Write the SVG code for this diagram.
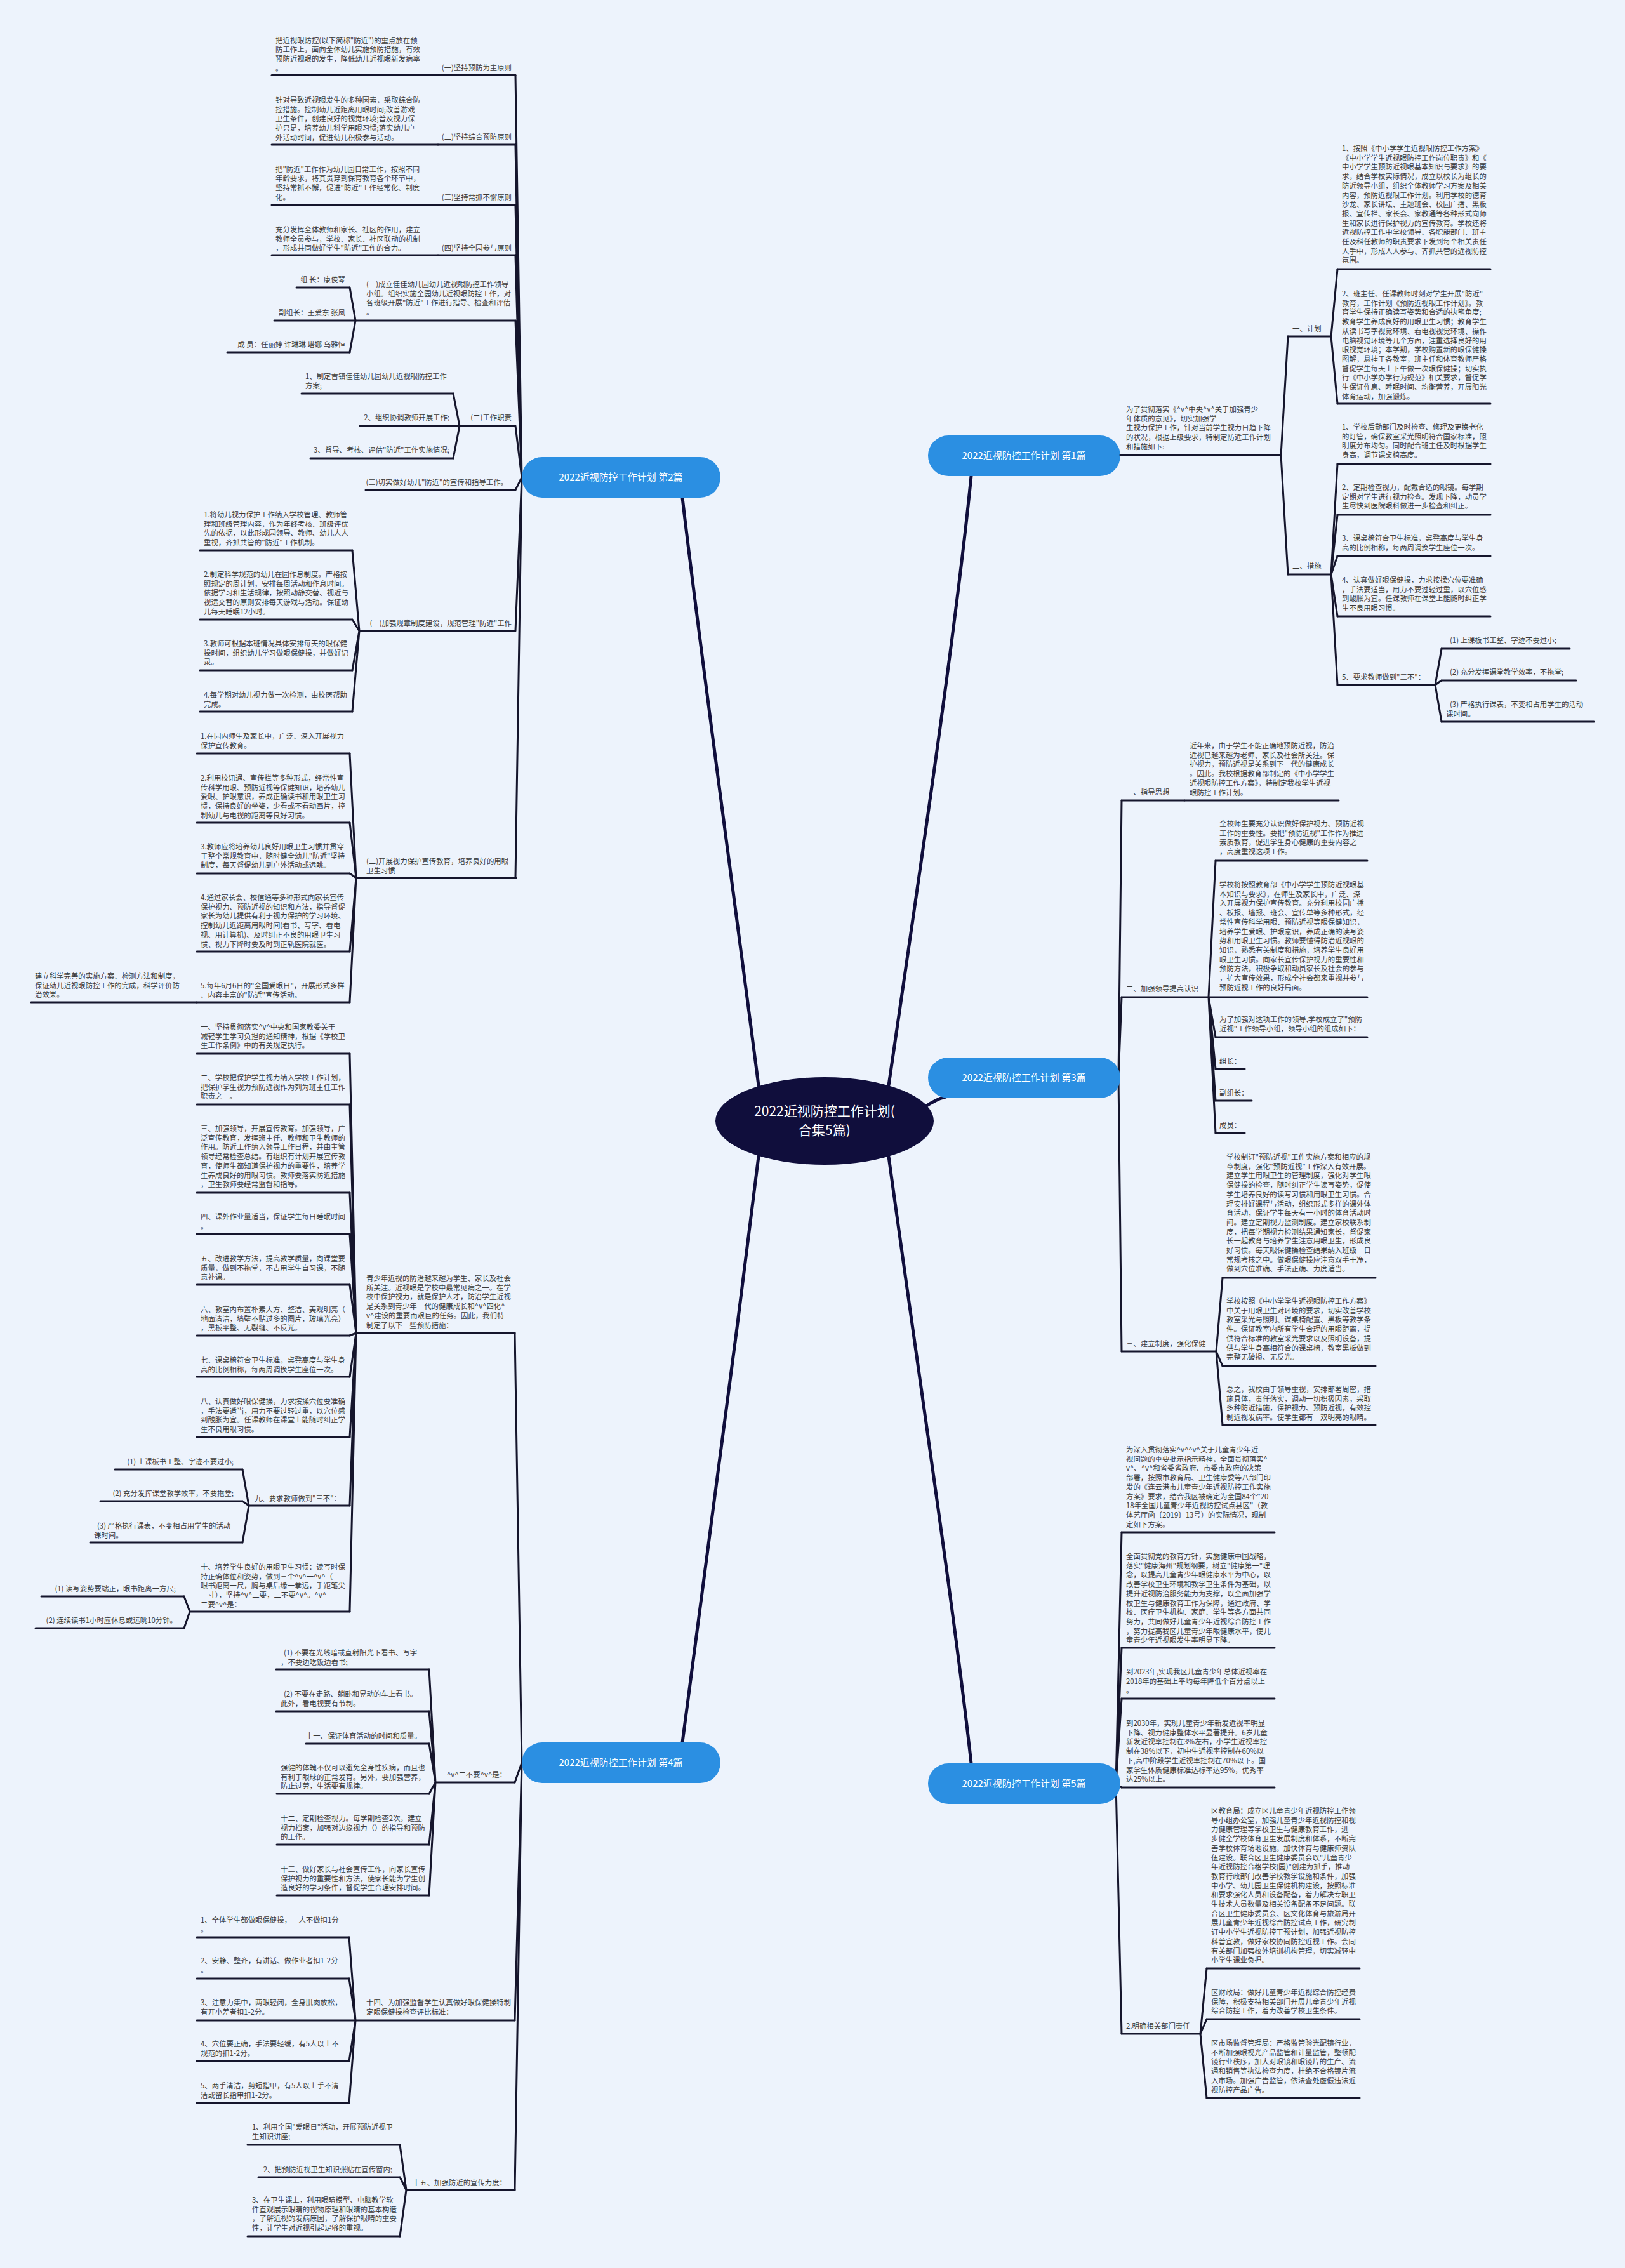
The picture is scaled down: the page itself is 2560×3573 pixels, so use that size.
<svg xmlns="http://www.w3.org/2000/svg" width="2560" height="3573" viewBox="0 0 2560 3573">
<style>
.t{font-family:"Noto Sans CJK SC","Noto Sans",sans-serif;font-size:11.4px;fill:#3a3a3a}
.e{text-anchor:end}
.ul{stroke:#15152c;stroke-width:3;fill:none;stroke-linecap:round}
.cn{stroke:#15152c;stroke-width:3;fill:none;stroke-linecap:round}
.mc{stroke:#100e3c;stroke-width:5;fill:none;stroke-linecap:round}
.pill{fill:#2b8fe2}
.pt{font-family:"Noto Sans CJK SC","Noto Sans",sans-serif;font-size:15px;fill:#ffffff;text-anchor:middle}
.ct{font-family:"Noto Sans CJK SC","Noto Sans",sans-serif;font-size:21px;fill:#ffffff;text-anchor:middle}
</style>
<rect width="2560" height="3573" fill="#edf3fc"/>

<g id="connectors">
<path class="mc" d="M1195,1710 C1155,1400 1100,1000 1075,784"/>
<path class="mc" d="M1195,1822 C1155,2150 1100,2550 1075,2745"/>
<path class="mc" d="M1400,1710 C1445,1400 1505,1000 1530,750"/>
<path class="mc" d="M1455,1745 C1470,1735 1480,1730 1490,1728"/>
<path class="mc" d="M1400,1822 C1445,2150 1505,2550 1530,2778"/>
<path class="cn" d="M822,752 L812,118.5 M822,752 L812,228 M822,752 L812,323 M822,752 L812,402 M822,752 L812,505 M822,752 L812,671 M822,752 L812,772 M822,752 L812,994 M822,752 L812,1383"/>
<path class="cn" d="M560,505 L551,453 M560,505 L551,555"/>
<path class="cn" d="M724,671 L714,620 M724,671 L714,722"/>
<path class="cn" d="M566,994 L555,867 M566,994 L555,976 M566,994 L555,1056 M566,994 L555,1121"/>
<path class="cn" d="M561,1383 L551,1187 M561,1383 L551,1296 M561,1383 L551,1376 M561,1383 L551,1499 M561,1383 L551,1579"/>
<path class="cn" d="M822,2777 L811,2100 M822,2777 L811,2808 M822,2777 L811,3183 M822,2777 L811,3450"/>
<path class="cn" d="M561,2100 L551,1660 M561,2100 L551,1740 M561,2100 L551,1879 M561,2100 L551,1944 M561,2100 L551,2024 M561,2100 L551,2104 M561,2100 L551,2169 M561,2100 L551,2264 M561,2100 L551,2372 M561,2100 L551,2539"/>
<path class="cn" d="M392,2372 L382,2315 M392,2372 L382,2365 M392,2372 L382,2430"/>
<path class="cn" d="M299,2539 L290,2515 M299,2539 L290,2565"/>
<path class="cn" d="M686,2808 L676,2630 M686,2808 L676,2696 M686,2808 L676,2747 M686,2808 L676,2826 M686,2808 L676,2906 M686,2808 L676,2986"/>
<path class="cn" d="M560,3183 L550,3052 M560,3183 L550,3117 M560,3183 L550,3247 M560,3183 L550,3313"/>
<path class="cn" d="M640,3450 L630,3379 M640,3450 L630,3430 M640,3450 L630,3523"/>
<path class="cn" d="M2018,717 L2029,530 M2018,717 L2029,905"/>
<path class="cn" d="M2097,530 L2107,424 M2097,530 L2107,636"/>
<path class="cn" d="M2097,905 L2107,731 M2097,905 L2107,811 M2097,905 L2107,876 M2097,905 L2107,971 M2097,905 L2107,1079"/>
<path class="cn" d="M2261,1079 L2271,1022 M2261,1079 L2271,1072 M2261,1079 L2271,1137"/>
<path class="cn" d="M1762,1698 L1767,1261 M1762,1698 L1767,1571 M1762,1698 L1767,2129"/>
<path class="cn" d="M1904,1571 L1915,1356 M1904,1571 L1915,1634 M1904,1571 L1915,1684 M1904,1571 L1915,1734 M1904,1571 L1915,1785"/>
<path class="cn" d="M1916,2129 L1926,2013 M1916,2129 L1926,2152 M1916,2129 L1926,2245"/>
<path class="cn" d="M1758,2810 L1767,2414 M1758,2810 L1767,2596 M1758,2810 L1767,2676 M1758,2810 L1767,2816 M1758,2810 L1767,3204"/>
<path class="cn" d="M1891,3204 L1901,3101 M1891,3204 L1901,3181 M1891,3204 L1901,3305"/>
</g>

<g id="center">
<ellipse cx="1299" cy="1766" rx="172" ry="69" fill="#100e3c"/>
<text class="ct" x="1299" y="1758">2022近视防控工作计划(</text>
<text class="ct" x="1299" y="1788">合集5篇)</text>
</g>

<g id="branch1"><rect class="pill" x="1462" y="686" width="303" height="64" rx="32"/><text class="pt" x="1613" y="723">2022近视防控工作计划 第1篇</text></g>
<g id="branch2"><rect class="pill" x="822" y="720" width="313" height="64" rx="32"/><text class="pt" x="978" y="757">2022近视防控工作计划 第2篇</text></g>
<g id="branch3"><rect class="pill" x="1462" y="1666" width="303" height="64" rx="32"/><text class="pt" x="1613" y="1703">2022近视防控工作计划 第3篇</text></g>
<g id="branch4"><rect class="pill" x="822" y="2745" width="313" height="64" rx="32"/><text class="pt" x="978" y="2782">2022近视防控工作计划 第4篇</text></g>
<g id="branch5"><rect class="pill" x="1462" y="2778" width="303" height="64" rx="32"/><text class="pt" x="1613" y="2815">2022近视防控工作计划 第5篇</text></g>

<g id="b2-a"><text class="t e" x="806" y="111">(一)坚持预防为主原则</text><path class="ul" d="M690,118.5 H812"/></g>
<g id="b2-a1"><text class="t" x="434" y="67.5"><tspan x="434">把近视眼防控(以下简称"防近")的重点放在预</tspan><tspan x="434" dy="14.7">防工作上，面向全体幼儿实施预防措施，有效</tspan><tspan x="434" dy="14.7">预防近视眼的发生，降低幼儿近视眼新发病率</tspan><tspan x="434" dy="14.7">。</tspan></text><path class="ul" d="M428,118.5 H690"/></g>
<g id="b2-b"><text class="t e" x="806" y="220">(二)坚持综合预防原则</text><path class="ul" d="M690,228 H812"/></g>
<g id="b2-b1"><text class="t" x="434" y="162"><tspan x="434">针对导致近视眼发生的多种因素，采取综合防</tspan><tspan x="434" dy="14.7">控措施。控制幼儿近距离用眼时间;改善游戏</tspan><tspan x="434" dy="14.7">卫生条件，创建良好的视觉环境;普及视力保</tspan><tspan x="434" dy="14.7">护只是，培养幼儿科学用眼习惯;落实幼儿户</tspan><tspan x="434" dy="14.7">外活动时间，促进幼儿积极参与活动。</tspan></text><path class="ul" d="M428,228 H690"/></g>
<g id="b2-c"><text class="t e" x="806" y="315">(三)坚持常抓不懈原则</text><path class="ul" d="M690,323 H812"/></g>
<g id="b2-c1"><text class="t" x="434" y="270.6"><tspan x="434">把"防近"工作作为幼儿园日常工作，按照不同</tspan><tspan x="434" dy="14.7">年龄要求，将其贯穿到保育教育各个环节中，</tspan><tspan x="434" dy="14.7">坚持常抓不懈，促进"防近"工作经常化、制度</tspan><tspan x="434" dy="14.7">化。</tspan></text><path class="ul" d="M428,323 H690"/></g>
<g id="b2-d"><text class="t e" x="806" y="395">(四)坚持全园参与原则</text><path class="ul" d="M690,402 H812"/></g>
<g id="b2-d1"><text class="t" x="434" y="366"><tspan x="434">充分发挥全体教师和家长、社区的作用，建立</tspan><tspan x="434" dy="14.7">教师全员参与，学校、家长、社区联动的机制</tspan><tspan x="434" dy="14.7">，形成共同做好学生"防近"工作的合力。</tspan></text><path class="ul" d="M428,402 H690"/></g>
<g id="b2-e"><text class="t" x="577" y="452"><tspan x="577">(一)成立佳佳幼儿园幼儿近视眼防控工作领导</tspan><tspan x="577" dy="14.7">小组。组织实施全园幼儿近视眼防控工作，对</tspan><tspan x="577" dy="14.7">各班级开展"防近"工作进行指导、检查和评估</tspan><tspan x="577" dy="14.7">。</tspan></text><path class="ul" d="M560,505 H812"/></g>
<g id="b2-e1"><text class="t e" x="544" y="445">组 长：康俊琴</text><path class="ul" d="M467,453 H551"/></g>
<g id="b2-e2"><text class="t e" x="544" y="497">副组长：王爱东 张凤</text><path class="ul" d="M432,505 H560"/></g>
<g id="b2-e3"><text class="t e" x="544" y="547">成 员：任丽婷 许琳琳 塔娜 乌雅恒</text><path class="ul" d="M358,555 H551"/></g>
<g id="b2-f"><text class="t e" x="806" y="662">(二)工作职责</text><path class="ul" d="M724,671 H811"/></g>
<g id="b2-f1"><text class="t" x="481" y="597"><tspan x="481">1、制定吉镇佳佳幼儿园幼儿近视眼防控工作</tspan><tspan x="481" dy="14.7">方案;</tspan></text><path class="ul" d="M475,620 H714"/></g>
<g id="b2-f2"><text class="t e" x="708" y="662">2、组织协调教师开展工作;</text><path class="ul" d="M567,671 H724"/></g>
<g id="b2-f3"><text class="t e" x="708" y="713">3、督导、考核、评估"防近"工作实施情况;</text><path class="ul" d="M489,722 H714"/></g>
<g id="b2-g"><text class="t e" x="800" y="764">(三)切实做好幼儿"防近"的宣传和指导工作。</text><path class="ul" d="M576,772 H811"/></g>
<g id="b2-h"><text class="t e" x="806" y="986">(一)加强规章制度建设，规范管理"防近"工作</text><path class="ul" d="M566,994 H811"/></g>
<g id="b2-h1"><text class="t" x="321" y="815"><tspan x="321">1.将幼儿视力保护工作纳入学校管理、教师管</tspan><tspan x="321" dy="14.7">理和班级管理内容，作为年终考核、班级评优</tspan><tspan x="321" dy="14.7">先的依据，以此形成园领导、教师、幼儿人人</tspan><tspan x="321" dy="14.7">重视，齐抓共管的"防近"工作机制。</tspan></text><path class="ul" d="M315,867 H555"/></g>
<g id="b2-h2"><text class="t" x="321" y="909"><tspan x="321">2.制定科学规范的幼儿在园作息制度。严格按</tspan><tspan x="321" dy="14.7">照规定的周计划，安排每周活动和作息时间。</tspan><tspan x="321" dy="14.7">依据学习和生活规律，按照动静交替、视近与</tspan><tspan x="321" dy="14.7">视远交替的原则安排每天游戏与活动。保证幼</tspan><tspan x="321" dy="14.7">儿每天睡眠12小时。</tspan></text><path class="ul" d="M315,976 H555"/></g>
<g id="b2-h3"><text class="t" x="321" y="1018"><tspan x="321">3.教师可根据本班情况具体安排每天的眼保健</tspan><tspan x="321" dy="14.7">操时间，组织幼儿学习做眼保健操，并做好记</tspan><tspan x="321" dy="14.7">录。</tspan></text><path class="ul" d="M315,1056 H555"/></g>
<g id="b2-h4"><text class="t" x="321" y="1099"><tspan x="321">4.每学期对幼儿视力做一次检测，由校医帮助</tspan><tspan x="321" dy="14.7">完成。</tspan></text><path class="ul" d="M315,1121 H555"/></g>
<g id="b2-i"><text class="t" x="577" y="1361"><tspan x="577">(二)开展视力保护宣传教育，培养良好的用眼</tspan><tspan x="577" dy="14.7">卫生习惯</tspan></text><path class="ul" d="M561,1383 H813"/></g>
<g id="b2-i1"><text class="t" x="316" y="1164"><tspan x="316">1.在园内师生及家长中，广泛、深入开展视力</tspan><tspan x="316" dy="14.7">保护宣传教育。</tspan></text><path class="ul" d="M310,1187 H551"/></g>
<g id="b2-i2"><text class="t" x="316" y="1230"><tspan x="316">2.利用校讯通、宣传栏等多种形式，经常性宣</tspan><tspan x="316" dy="14.7">传科学用眼、预防近视等保健知识，培养幼儿</tspan><tspan x="316" dy="14.7">爱眼、护眼意识，养成正确读书和用眼卫生习</tspan><tspan x="316" dy="14.7">惯，保持良好的坐姿，少看或不看动画片，控</tspan><tspan x="316" dy="14.7">制幼儿与电视的距离等良好习惯。</tspan></text><path class="ul" d="M310,1296 H551"/></g>
<g id="b2-i3"><text class="t" x="316" y="1338"><tspan x="316">3.教师应将培养幼儿良好用眼卫生习惯并贯穿</tspan><tspan x="316" dy="14.7">于整个常规教育中，随时健全幼儿"防近"坚持</tspan><tspan x="316" dy="14.7">制度，每天督促幼儿到户外活动或远眺。</tspan></text><path class="ul" d="M310,1376 H551"/></g>
<g id="b2-i4"><text class="t" x="316" y="1418"><tspan x="316">4.通过家长会、校信通等多种形式向家长宣传</tspan><tspan x="316" dy="14.7">保护视力、预防近视的知识和方法，指导督促</tspan><tspan x="316" dy="14.7">家长为幼儿提供有利于视力保护的学习环境、</tspan><tspan x="316" dy="14.7">控制幼儿近距离用眼时间(看书、写字、看电</tspan><tspan x="316" dy="14.7">视、用计算机)、及时纠正不良的用眼卫生习</tspan><tspan x="316" dy="14.7">惯、视力下降时要及时到正轨医院就医。</tspan></text><path class="ul" d="M310,1499 H551"/></g>
<g id="b2-i5"><text class="t" x="316" y="1557"><tspan x="316">5.每年6月6日的"全国爱眼日"，开展形式多样</tspan><tspan x="316" dy="14.7">、内容丰富的"防近"宣传活动。</tspan></text><path class="ul" d="M310,1579 H551"/></g>
<g id="b2-i5a"><text class="t" x="55" y="1542"><tspan x="55">建立科学完善的实施方案、检测方法和制度，</tspan><tspan x="55" dy="14.7">保证幼儿近视眼防控工作的完成，科学评价防</tspan><tspan x="55" dy="14.7">治效果。</tspan></text><path class="ul" d="M49,1579 H310"/></g>

<g id="b4-a"><text class="t" x="577" y="2018"><tspan x="577">青少年近视的防治越来越为学生、家长及社会</tspan><tspan x="577" dy="14.7">所关注。近视眼是学校中最常见病之一。在学</tspan><tspan x="577" dy="14.7">校中保护视力，就是保护人才，防治学生近视</tspan><tspan x="577" dy="14.7">是关系到青少年一代的健康成长和^v^四化^</tspan><tspan x="577" dy="14.7">v^建设的重要而艰巨的任务。因此，我们特</tspan><tspan x="577" dy="14.7">制定了以下一些预防措施：</tspan></text><path class="ul" d="M561,2100 H811"/></g>
<g id="b4-a1"><text class="t" x="316" y="1622"><tspan x="316">一、坚持贯彻落实^v^中央和国家教委关于</tspan><tspan x="316" dy="14.7">减轻学生学习负担的通知精神，根据《学校卫</tspan><tspan x="316" dy="14.7">生工作条例》中的有关规定执行。</tspan></text><path class="ul" d="M310,1660 H551"/></g>
<g id="b4-a2"><text class="t" x="316" y="1702"><tspan x="316">二、学校把保护学生视力纳入学校工作计划，</tspan><tspan x="316" dy="14.7">把保护学生视力预防近视作为列为班主任工作</tspan><tspan x="316" dy="14.7">职责之一。</tspan></text><path class="ul" d="M310,1740 H551"/></g>
<g id="b4-a3"><text class="t" x="316" y="1782"><tspan x="316">三、加强领导，开展宣传教育。加强领导，广</tspan><tspan x="316" dy="14.7">泛宣传教育，发挥班主任、教师和卫生教师的</tspan><tspan x="316" dy="14.7">作用。防近工作纳入领导工作日程，并由主管</tspan><tspan x="316" dy="14.7">领导经常检查总结。有组织有计划开展宣传教</tspan><tspan x="316" dy="14.7">育，使师生都知道保护视力的重要性，培养学</tspan><tspan x="316" dy="14.7">生养成良好的用眼习惯。教师要落实防近措施</tspan><tspan x="316" dy="14.7">，卫生教师要经常监督和指导。</tspan></text><path class="ul" d="M310,1879 H551"/></g>
<g id="b4-a4"><text class="t" x="316" y="1921"><tspan x="316">四、课外作业量适当，保证学生每日睡眠时间</tspan><tspan x="316" dy="14.7">。</tspan></text><path class="ul" d="M310,1944 H551"/></g>
<g id="b4-a5"><text class="t" x="316" y="1987"><tspan x="316">五、改进教学方法，提高教学质量，向课堂要</tspan><tspan x="316" dy="14.7">质量，做到不拖堂，不占用学生自习课，不随</tspan><tspan x="316" dy="14.7">意补课。</tspan></text><path class="ul" d="M310,2024 H551"/></g>
<g id="b4-a6"><text class="t" x="316" y="2067"><tspan x="316">六、教室内布置朴素大方、整洁、美观明亮（</tspan><tspan x="316" dy="14.7">地面清洁，墙壁不贴过多的图片，玻璃光亮）</tspan><tspan x="316" dy="14.7">，黑板平整、无裂缝、不反光。</tspan></text><path class="ul" d="M310,2104 H551"/></g>
<g id="b4-a7"><text class="t" x="316" y="2147"><tspan x="316">七、课桌椅符合卫生标准，桌凳高度与学生身</tspan><tspan x="316" dy="14.7">高的比例相称，每两周调换学生座位一次。</tspan></text><path class="ul" d="M310,2169 H551"/></g>
<g id="b4-a8"><text class="t" x="316" y="2212"><tspan x="316">八、认真做好眼保健操，力求按揉穴位要准确</tspan><tspan x="316" dy="14.7">，手法要适当，用力不要过轻过重，以穴位感</tspan><tspan x="316" dy="14.7">到酸胀为宜。任课教师在课堂上能随时纠正学</tspan><tspan x="316" dy="14.7">生不良用眼习惯。</tspan></text><path class="ul" d="M310,2264 H551"/></g>
<g id="b4-a9"><text class="t e" x="537" y="2365">九、要求教师做到"三不"：</text><path class="ul" d="M392,2372 H551"/></g>
<g id="b4-a9-1"><text class="t e" x="368" y="2307">(1) 上课板书工整、字迹不要过小;</text><path class="ul" d="M181,2315 H382"/></g>
<g id="b4-a9-2"><text class="t e" x="368" y="2357">(2) 充分发挥课堂教学效率，不要拖堂;</text><path class="ul" d="M158,2365 H382"/></g>
<g id="b4-a9-3"><text class="t" x="150" y="2408"><tspan x="153">(3) 严格执行课表，不变相占用学生的活动</tspan><tspan x="148" dy="14.7">课时间。</tspan></text><path class="ul" d="M142,2430 H382"/></g>
<g id="b4-a10"><text class="t" x="316" y="2473"><tspan x="316">十、培养学生良好的用眼卫生习惯：读写时保</tspan><tspan x="316" dy="14.7">持正确体位和姿势，做到三个^v^一^v^（</tspan><tspan x="316" dy="14.7">眼书距离一尺，胸与桌后缘一拳远，手距笔尖</tspan><tspan x="316" dy="14.7">一寸），坚持^v^二要，二不要^v^。^v^</tspan><tspan x="316" dy="14.7">二要^v^是：</tspan></text><path class="ul" d="M299,2539 H551"/></g>
<g id="b4-a10-1"><text class="t e" x="277" y="2507">(1) 读写姿势要端正，眼书距离一方尺;</text><path class="ul" d="M65,2515 H290"/></g>
<g id="b4-a10-2"><text class="t e" x="279" y="2557">(2) 连续读书1小时应休息或远眺10分钟。</text><path class="ul" d="M56,2565 H290"/></g>
<g id="b4-b"><text class="t e" x="798" y="2800">^v^二不要^v^是：</text><path class="ul" d="M686,2808 H811"/></g>
<g id="b4-b1"><text class="t" x="447" y="2608"><tspan x="447">(1) 不要在光线暗或直射阳光下看书、写字</tspan><tspan x="442" dy="14.7">，不要边吃饭边看书;</tspan></text><path class="ul" d="M435,2630 H676"/></g>
<g id="b4-b2"><text class="t" x="447" y="2673"><tspan x="447">(2) 不要在走路、躺卧和晃动的车上看书。</tspan><tspan x="442" dy="14.7">此外，看电视要有节制。</tspan></text><path class="ul" d="M435,2696 H676"/></g>
<g id="b4-b3"><text class="t e" x="664" y="2739">十一、保证体育活动的时间和质量。</text><path class="ul" d="M482,2747 H676"/></g>
<g id="b4-b4"><text class="t" x="442" y="2789"><tspan x="442">强健的体魄不仅可以避免全身性疾病，而且也</tspan><tspan x="442" dy="14.7">有利于眼球的正常发育。另外，要加强营养，</tspan><tspan x="442" dy="14.7">防止过劳，生活要有规律。</tspan></text><path class="ul" d="M436,2826 H676"/></g>
<g id="b4-b5"><text class="t" x="442" y="2869"><tspan x="442">十二、定期检查视力。每学期检查2次，建立</tspan><tspan x="442" dy="14.7">视力档案，加强对边缘视力（）的指导和预防</tspan><tspan x="442" dy="14.7">的工作。</tspan></text><path class="ul" d="M436,2906 H676"/></g>
<g id="b4-b6"><text class="t" x="442" y="2949"><tspan x="442">十三、做好家长与社会宣传工作，向家长宣传</tspan><tspan x="442" dy="14.7">保护视力的重要性和方法，使家长能为学生创</tspan><tspan x="442" dy="14.7">造良好的学习条件，督促学生合理安排时间。</tspan></text><path class="ul" d="M436,2986 H676"/></g>
<g id="b4-c"><text class="t" x="577" y="3159"><tspan x="577">十四、为加强监督学生认真做好眼保健操特制</tspan><tspan x="577" dy="14.7">定眼保健操检查评比标准：</tspan></text><path class="ul" d="M560,3183 H811"/></g>
<g id="b4-c1"><text class="t" x="316" y="3029"><tspan x="316">1、全体学生都做眼保健操，一人不做扣1分</tspan><tspan x="316" dy="14.7">。</tspan></text><path class="ul" d="M310,3052 H550"/></g>
<g id="b4-c2"><text class="t" x="316" y="3093"><tspan x="316">2、安静、整齐，有讲话、做作业者扣1-2分</tspan><tspan x="316" dy="14.7">。</tspan></text><path class="ul" d="M310,3117 H550"/></g>
<g id="b4-c3"><text class="t" x="316" y="3159"><tspan x="316">3、注意力集中，两眼轻闭，全身肌肉放松，</tspan><tspan x="316" dy="14.7">有开小差者扣1-2分。</tspan></text><path class="ul" d="M310,3183 H560"/></g>
<g id="b4-c4"><text class="t" x="316" y="3224"><tspan x="316">4、穴位要正确，手法要轻缓，有5人以上不</tspan><tspan x="316" dy="14.7">规范的扣1-2分。</tspan></text><path class="ul" d="M310,3247 H550"/></g>
<g id="b4-c5"><text class="t" x="316" y="3290"><tspan x="316">5、两手清洁，剪短指甲，有5人以上手不清</tspan><tspan x="316" dy="14.7">洁或留长指甲扣1-2分。</tspan></text><path class="ul" d="M310,3313 H550"/></g>
<g id="b4-d"><text class="t e" x="798" y="3443">十五、加强防近的宣传力度：</text><path class="ul" d="M640,3450 H811"/></g>
<g id="b4-d1"><text class="t" x="397" y="3355"><tspan x="397">1、利用全国"爱眼日"活动，开展预防近视卫</tspan><tspan x="397" dy="14.7">生知识讲座;</tspan></text><path class="ul" d="M390,3379 H630"/></g>
<g id="b4-d2"><text class="t e" x="618" y="3422">2、把预防近视卫生知识张贴在宣传窗内;</text><path class="ul" d="M407,3430 H630"/></g>
<g id="b4-d3"><text class="t" x="397" y="3470"><tspan x="397">3、在卫生课上，利用眼睛模型、电脑教学软</tspan><tspan x="397" dy="14.7">件直观展示眼睛的视物原理和眼睛的基本构造</tspan><tspan x="397" dy="14.7">，了解近视的发病原因，了解保护眼睛的重要</tspan><tspan x="397" dy="14.7">性，让学生对近视引起足够的重视。</tspan></text><path class="ul" d="M390,3523 H630"/></g>

<g id="b1-a"><text class="t" x="1774" y="649"><tspan x="1774">为了贯彻落实《^v^中央^v^关于加强青少</tspan><tspan x="1774" dy="14.7">年体质的意见》，切实加强学</tspan><tspan x="1774" dy="14.7">生视力保护工作，针对当前学生视力日趋下降</tspan><tspan x="1774" dy="14.7">的状况，根据上级要求，特制定防近工作计划</tspan><tspan x="1774" dy="14.7">和措施如下:</tspan></text><path class="ul" d="M1765,717 H2018"/></g>
<g id="b1-b"><text class="t" x="2036" y="522">一、计划</text><path class="ul" d="M2029,530 H2097"/></g>
<g id="b1-b1"><text class="t" x="2114" y="238"><tspan x="2114">1、按照《中小学学生近视眼防控工作方案》</tspan><tspan x="2114" dy="14.7">《中小学学生近视眼防控工作岗位职责》和《</tspan><tspan x="2114" dy="14.7">中小学学生预防近视眼基本知识与要求》的要</tspan><tspan x="2114" dy="14.7">求，结合学校实际情况，成立以校长为组长的</tspan><tspan x="2114" dy="14.7">防近领导小组，组织全体教师学习方案及相关</tspan><tspan x="2114" dy="14.7">内容，预防近视眼工作计划。利用学校的德育</tspan><tspan x="2114" dy="14.7">沙龙、家长讲坛、主题班会、校园广播、黑板</tspan><tspan x="2114" dy="14.7">报、宣传栏、家长会、家教通等各种形式向师</tspan><tspan x="2114" dy="14.7">生和家长进行保护视力的宣传教育。学校还将</tspan><tspan x="2114" dy="14.7">近视防控工作中学校领导、各职能部门、班主</tspan><tspan x="2114" dy="14.7">任及科任教师的职责要求下发到每个相关责任</tspan><tspan x="2114" dy="14.7">人手中，形成人人参与、齐抓共管的近视防控</tspan><tspan x="2114" dy="14.7">氛围。</tspan></text><path class="ul" d="M2107,424 H2348"/></g>
<g id="b1-b2"><text class="t" x="2114" y="467"><tspan x="2114">2、班主任、任课教师时刻对学生开展"防近"</tspan><tspan x="2114" dy="14.7">教育，工作计划《预防近视眼工作计划》。教</tspan><tspan x="2114" dy="14.7">育学生保持正确读写姿势和合适的执笔角度;</tspan><tspan x="2114" dy="14.7">教育学生养成良好的用眼卫生习惯；教育学生</tspan><tspan x="2114" dy="14.7">从读书写字视觉环境、看电视视觉环境、操作</tspan><tspan x="2114" dy="14.7">电脑视觉环境等几个方面，注重选择良好的用</tspan><tspan x="2114" dy="14.7">眼视觉环境；本学期，学校购置新的眼保健操</tspan><tspan x="2114" dy="14.7">图解，悬挂于各教室，班主任和体育教师严格</tspan><tspan x="2114" dy="14.7">督促学生每天上下午做一次眼保健操；切实执</tspan><tspan x="2114" dy="14.7">行《中小学办学行为规范》相关要求，督促学</tspan><tspan x="2114" dy="14.7">生保证作息、睡眠时间、均衡营养，开展阳光</tspan><tspan x="2114" dy="14.7">体育运动，加强锻炼。</tspan></text><path class="ul" d="M2107,636 H2348"/></g>
<g id="b1-c"><text class="t" x="2036" y="896">二、措施</text><path class="ul" d="M2029,905 H2097"/></g>
<g id="b1-c1"><text class="t" x="2114" y="677"><tspan x="2114">1、学校后勤部门及时检查、修理及更换老化</tspan><tspan x="2114" dy="14.7">的灯管，确保教室采光照明符合国家标准，照</tspan><tspan x="2114" dy="14.7">明度分布均匀。同时配合班主任及时根据学生</tspan><tspan x="2114" dy="14.7">身高，调节课桌椅高度。</tspan></text><path class="ul" d="M2107,731 H2348"/></g>
<g id="b1-c2"><text class="t" x="2114" y="772"><tspan x="2114">2、定期检查视力，配戴合适的眼镜。每学期</tspan><tspan x="2114" dy="14.7">定期对学生进行视力检查。发现下降，动员学</tspan><tspan x="2114" dy="14.7">生尽快到医院眼科做进一步检查和纠正。</tspan></text><path class="ul" d="M2107,811 H2348"/></g>
<g id="b1-c3"><text class="t" x="2114" y="852"><tspan x="2114">3、课桌椅符合卫生标准，桌凳高度与学生身</tspan><tspan x="2114" dy="14.7">高的比例相称，每两周调换学生座位一次。</tspan></text><path class="ul" d="M2107,876 H2348"/></g>
<g id="b1-c4"><text class="t" x="2114" y="918"><tspan x="2114">4、认真做好眼保健操，力求按揉穴位要准确</tspan><tspan x="2114" dy="14.7">，手法要适当，用力不要过轻过重，以穴位感</tspan><tspan x="2114" dy="14.7">到酸胀为宜。任课教师在课堂上能随时纠正学</tspan><tspan x="2114" dy="14.7">生不良用眼习惯。</tspan></text><path class="ul" d="M2107,971 H2348"/></g>
<g id="b1-c5"><text class="t" x="2114" y="1071">5、要求教师做到"三不"：</text><path class="ul" d="M2107,1079 H2261"/></g>
<g id="b1-c5-1"><text class="t" x="2284" y="1013">(1) 上课板书工整、字迹不要过小;</text><path class="ul" d="M2271,1022 H2473"/></g>
<g id="b1-c5-2"><text class="t" x="2284" y="1063">(2) 充分发挥课堂教学效率，不拖堂;</text><path class="ul" d="M2271,1072 H2483"/></g>
<g id="b1-c5-3"><text class="t" x="2284" y="1114"><tspan x="2284">(3) 严格执行课表，不变相占用学生的活动</tspan><tspan x="2278" dy="14.7">课时间。</tspan></text><path class="ul" d="M2271,1137 H2511"/></g>

<g id="b3-a"><text class="t" x="1774" y="1252">一、指导思想</text><path class="ul" d="M1767,1261 H1866"/></g>
<g id="b3-a1"><text class="t" x="1874" y="1179"><tspan x="1874">近年来，由于学生不能正确地预防近视，防治</tspan><tspan x="1874" dy="14.7">近视已越来越为老师、家长及社会所关注。保</tspan><tspan x="1874" dy="14.7">护视力，预防近视是关系到下一代的健康成长</tspan><tspan x="1874" dy="14.7">。因此。我校根据教育部制定的《中小学学生</tspan><tspan x="1874" dy="14.7">近视眼防控工作方案》，特制定我校学生近视</tspan><tspan x="1874" dy="14.7">眼防控工作计划。</tspan></text><path class="ul" d="M1866,1261 H2109"/></g>
<g id="b3-b"><text class="t" x="1774" y="1562">二、加强领导提高认识</text><path class="ul" d="M1767,1571 H1904"/></g>
<g id="b3-b1"><text class="t" x="1921" y="1302"><tspan x="1921">全校师生要充分认识做好保护视力、预防近视</tspan><tspan x="1921" dy="14.7">工作的重要性。要把"预防近视"工作作为推进</tspan><tspan x="1921" dy="14.7">素质教育，促进学生身心健康的重要内容之一</tspan><tspan x="1921" dy="14.7">，高度重视这项工作。</tspan></text><path class="ul" d="M1915,1356 H2154"/></g>
<g id="b3-b2"><text class="t" x="1921" y="1398"><tspan x="1921">学校将按照教育部《中小学学生预防近视眼基</tspan><tspan x="1921" dy="14.7">本知识与要求》，在师生及家长中，广泛、深</tspan><tspan x="1921" dy="14.7">入开展视力保护宣传教育。充分利用校园广播</tspan><tspan x="1921" dy="14.7">、板报、墙报、班会、宣传单等多种形式，经</tspan><tspan x="1921" dy="14.7">常性宣传科学用眼、预防近视等眼保健知识，</tspan><tspan x="1921" dy="14.7">培养学生爱眼、护眼意识，养成正确的读写姿</tspan><tspan x="1921" dy="14.7">势和用眼卫生习惯。教师要懂得防治近视眼的</tspan><tspan x="1921" dy="14.7">知识，熟悉有关制度和措施，培养学生良好用</tspan><tspan x="1921" dy="14.7">眼卫生习惯。向家长宣传保护视力的重要性和</tspan><tspan x="1921" dy="14.7">预防方法，积极争取和动员家长及社会的参与</tspan><tspan x="1921" dy="14.7">，扩大宣传效果，形成全社会都来重视并参与</tspan><tspan x="1921" dy="14.7">预防近视工作的良好局面。</tspan></text><path class="ul" d="M1904,1571 H2154"/></g>
<g id="b3-b3"><text class="t" x="1921" y="1610"><tspan x="1921">为了加强对这项工作的领导,学校成立了"预防</tspan><tspan x="1921" dy="14.7">近视"工作领导小组，领导小组的组成如下：</tspan></text><path class="ul" d="M1915,1634 H2154"/></g>
<g id="b3-b4"><text class="t" x="1921" y="1676">组长：</text><path class="ul" d="M1915,1684 H1961"/></g>
<g id="b3-b5"><text class="t" x="1921" y="1726">副组长：</text><path class="ul" d="M1915,1734 H1972"/></g>
<g id="b3-b6"><text class="t" x="1921" y="1777">成员：</text><path class="ul" d="M1915,1785 H1961"/></g>
<g id="b3-c"><text class="t" x="1774" y="2121">三、建立制度，强化保健</text><path class="ul" d="M1767,2129 H1916"/></g>
<g id="b3-c1"><text class="t" x="1932" y="1827"><tspan x="1932">学校制订"预防近视"工作实施方案和相应的规</tspan><tspan x="1932" dy="14.7">章制度，强化"预防近视"工作深入有效开展。</tspan><tspan x="1932" dy="14.7">建立学生用眼卫生的管理制度，强化对学生眼</tspan><tspan x="1932" dy="14.7">保健操的检查，随时纠正学生读写姿势，促使</tspan><tspan x="1932" dy="14.7">学生培养良好的读写习惯和用眼卫生习惯。合</tspan><tspan x="1932" dy="14.7">理安排好课程与活动，组织形式多样的课外体</tspan><tspan x="1932" dy="14.7">育活动，保证学生每天有一小时的体育活动时</tspan><tspan x="1932" dy="14.7">间。建立定期视力监测制度。建立家校联系制</tspan><tspan x="1932" dy="14.7">度，把每学期视力检测结果通知家长，督促家</tspan><tspan x="1932" dy="14.7">长一起教育与培养学生注意用眼卫生，形成良</tspan><tspan x="1932" dy="14.7">好习惯。每天眼保健操检查结果纳入班级一日</tspan><tspan x="1932" dy="14.7">常规考核之中。做眼保健操应注意双手干净，</tspan><tspan x="1932" dy="14.7">做到穴位准确、手法正确、力度适当。</tspan></text><path class="ul" d="M1926,2013 H2167"/></g>
<g id="b3-c2"><text class="t" x="1932" y="2054"><tspan x="1932">学校按照《中小学学生近视眼防控工作方案》</tspan><tspan x="1932" dy="14.7">中关于用眼卫生对环境的要求，切实改善学校</tspan><tspan x="1932" dy="14.7">教室采光与照明、课桌椅配置、黑板等教学条</tspan><tspan x="1932" dy="14.7">件。保证教室内所有学生合理的用眼距离，提</tspan><tspan x="1932" dy="14.7">供符合标准的教室采光要求以及照明设备，提</tspan><tspan x="1932" dy="14.7">供与学生身高相符合的课桌椅，教室黑板做到</tspan><tspan x="1932" dy="14.7">完整无破损、无反光。</tspan></text><path class="ul" d="M1926,2152 H2167"/></g>
<g id="b3-c3"><text class="t" x="1932" y="2193"><tspan x="1932">总之，我校由于领导重视，安排部署周密，措</tspan><tspan x="1932" dy="14.7">施具体，责任落实，调动一切积极因素，采取</tspan><tspan x="1932" dy="14.7">多种防近措施，保护视力、预防近视，有效控</tspan><tspan x="1932" dy="14.7">制近视发病率。使学生都有一双明亮的眼睛。</tspan></text><path class="ul" d="M1926,2245 H2167"/></g>

<g id="b5-a"><text class="t" x="1774" y="2288"><tspan x="1774">为深入贯彻落实^v^^v^关于儿童青少年近</tspan><tspan x="1774" dy="14.7">视问题的重要批示指示精神，全面贯彻落实^</tspan><tspan x="1774" dy="14.7">v^、^v^和省委省政府、市委市政府的决策</tspan><tspan x="1774" dy="14.7">部署，按照市教育局、卫生健康委等八部门印</tspan><tspan x="1774" dy="14.7">发的《连云港市儿童青少年近视防控工作实施</tspan><tspan x="1774" dy="14.7">方案》要求，结合我区被确定为全国84个"20</tspan><tspan x="1774" dy="14.7">18年全国儿童青少年近视防控试点县区"（教</tspan><tspan x="1774" dy="14.7">体艺厅函〔2019〕13号）的实际情况，现制</tspan><tspan x="1774" dy="14.7">定如下方案。</tspan></text><path class="ul" d="M1767,2414 H2008"/></g>
<g id="b5-b"><text class="t" x="1774" y="2456"><tspan x="1774">全面贯彻党的教育方针，实施健康中国战略，</tspan><tspan x="1774" dy="14.7">落实"健康海州"规划纲要，树立"健康第一"理</tspan><tspan x="1774" dy="14.7">念，以提高儿童青少年眼健康水平为中心，以</tspan><tspan x="1774" dy="14.7">改善学校卫生环境和教学卫生条件为基础，以</tspan><tspan x="1774" dy="14.7">提升近视防治服务能力为支撑，以全面加强学</tspan><tspan x="1774" dy="14.7">校卫生与健康教育工作为保障，通过政府、学</tspan><tspan x="1774" dy="14.7">校、医疗卫生机构、家庭、学生等各方面共同</tspan><tspan x="1774" dy="14.7">努力，共同做好儿童青少年近视综合防控工作</tspan><tspan x="1774" dy="14.7">，努力提高我区儿童青少年眼健康水平，使儿</tspan><tspan x="1774" dy="14.7">童青少年近视眼发生率明显下降。</tspan></text><path class="ul" d="M1767,2596 H2008"/></g>
<g id="b5-c"><text class="t" x="1774" y="2638"><tspan x="1774">到2023年,实现我区儿童青少年总体近视率在</tspan><tspan x="1774" dy="14.7">2018年的基础上平均每年降低个百分点以上</tspan><tspan x="1774" dy="14.7">。</tspan></text><path class="ul" d="M1767,2676 H2008"/></g>
<g id="b5-d"><text class="t" x="1774" y="2719"><tspan x="1774">到2030年，实现儿童青少年新发近视率明显</tspan><tspan x="1774" dy="14.7">下降、视力健康整体水平显著提升。6岁儿童</tspan><tspan x="1774" dy="14.7">新发近视率控制在3%左右，小学生近视率控</tspan><tspan x="1774" dy="14.7">制在38%以下，初中生近视率控制在60%以</tspan><tspan x="1774" dy="14.7">下,高中阶段学生近视率控制在70%以下。国</tspan><tspan x="1774" dy="14.7">家学生体质健康标准达标率达95%，优秀率</tspan><tspan x="1774" dy="14.7">达25%以上。</tspan></text><path class="ul" d="M1767,2816 H2008"/></g>
<g id="b5-e"><text class="t" x="1774" y="3196">2.明确相关部门责任</text><path class="ul" d="M1767,3204 H1891"/></g>
<g id="b5-e1"><text class="t" x="1908" y="2857"><tspan x="1908">区教育局：成立区儿童青少年近视防控工作领</tspan><tspan x="1908" dy="14.7">导小组办公室，加强儿童青少年近视防控和视</tspan><tspan x="1908" dy="14.7">力健康管理等学校卫生与健康教育工作，进一</tspan><tspan x="1908" dy="14.7">步健全学校体育卫生发展制度和体系，不断完</tspan><tspan x="1908" dy="14.7">善学校体育场地设施，加快体育与健康师资队</tspan><tspan x="1908" dy="14.7">伍建设。联合区卫生健康委员会以"儿童青少</tspan><tspan x="1908" dy="14.7">年近视防控合格学校(园)"创建为抓手，推动</tspan><tspan x="1908" dy="14.7">教育行政部门改善学校教学设施和条件，加强</tspan><tspan x="1908" dy="14.7">中小学、幼儿园卫生保健机构建设，按照标准</tspan><tspan x="1908" dy="14.7">和要求强化人员和设备配备，着力解决专职卫</tspan><tspan x="1908" dy="14.7">生技术人员数量及相关设备配备不足问题。联</tspan><tspan x="1908" dy="14.7">合区卫生健康委员会、区文化体育与旅游局开</tspan><tspan x="1908" dy="14.7">展儿童青少年近视综合防控试点工作，研究制</tspan><tspan x="1908" dy="14.7">订中小学生近视防控干预计划，加强近视防控</tspan><tspan x="1908" dy="14.7">科普宣教，做好家校协同防控近视工作。会同</tspan><tspan x="1908" dy="14.7">有关部门加强校外培训机构管理，切实减轻中</tspan><tspan x="1908" dy="14.7">小学生课业负担。</tspan></text><path class="ul" d="M1901,3101 H2142"/></g>
<g id="b5-e2"><text class="t" x="1908" y="3143"><tspan x="1908">区财政局：做好儿童青少年近视综合防控经费</tspan><tspan x="1908" dy="14.7">保障，积极支持相关部门开展儿童青少年近视</tspan><tspan x="1908" dy="14.7">综合防控工作，着力改善学校卫生条件。</tspan></text><path class="ul" d="M1901,3181 H2142"/></g>
<g id="b5-e3"><text class="t" x="1908" y="3223"><tspan x="1908">区市场监督管理局：严格监管验光配镜行业，</tspan><tspan x="1908" dy="14.7">不断加强眼视光产品监管和计量监管，整顿配</tspan><tspan x="1908" dy="14.7">镜行业秩序，加大对眼镜和眼镜片的生产、流</tspan><tspan x="1908" dy="14.7">通和销售等执法检查力度，杜绝不合格镜片流</tspan><tspan x="1908" dy="14.7">入市场。加强广告监管，依法查处虚假违法近</tspan><tspan x="1908" dy="14.7">视防控产品广告。</tspan></text><path class="ul" d="M1901,3305 H2142"/></g>
</svg>
